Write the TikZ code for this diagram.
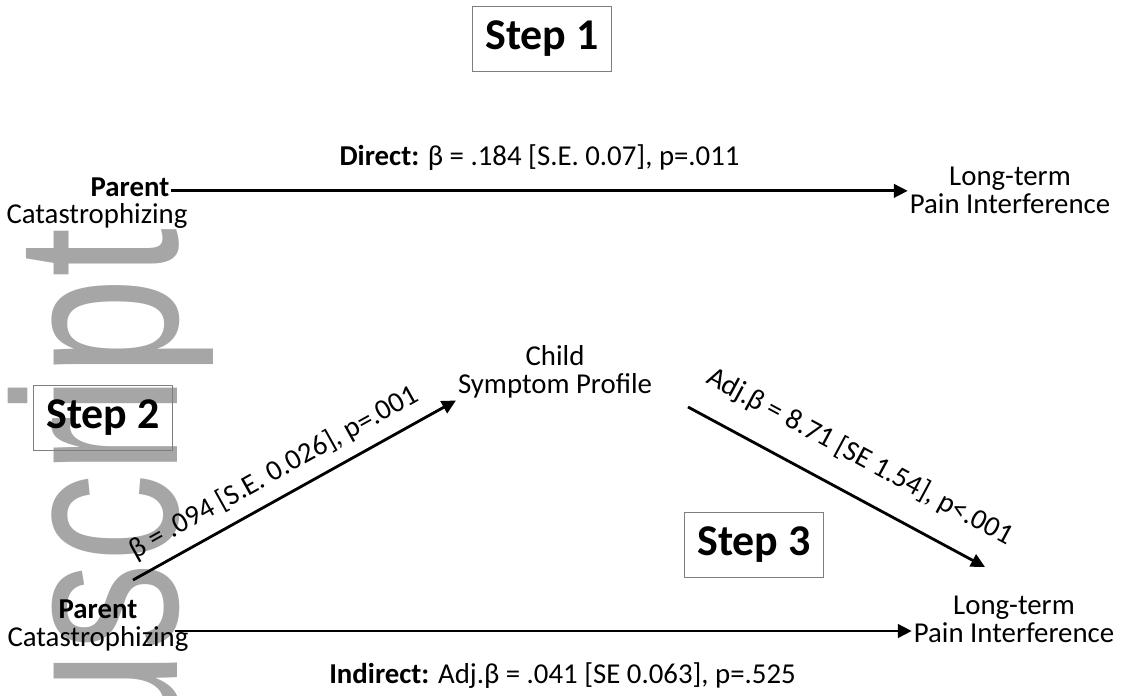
\documentclass[tikz,border=0pt]{standalone}
\usepackage{fontspec}
\usepackage{graphicx}
\setmainfont{Carlito}
\newfontfamily\wmfont{Liberation Sans}
\usetikzlibrary{arrows.meta,calc}
\definecolor{wmgray}{RGB}{166,166,166}
\definecolor{boxgray}{RGB}{125,125,125}
\begin{document}
\begin{tikzpicture}[x=0.02cm,y=-0.02cm,
  lbl/.style={font=\fontsize{16.4pt}{16pt}\selectfont, inner sep=1pt, align=center},
  lblb/.style={font=\fontsize{16.4pt}{16pt}\selectfont\bfseries, inner sep=1pt, align=center},
  stepbox/.style={draw=boxgray, line width=1.1pt, minimum width=2.78cm, minimum height=1.3cm, font=\fontsize{25pt}{30pt}\selectfont\bfseries, inner sep=0pt},
  arr/.style={line width=1.6pt, -{Triangle[length=0.28cm,width=0.27cm]}},
  elab/.style={font=\fontsize{16.4pt}{16pt}\selectfont, inner xsep=0pt}
]
\useasboundingbox (0,0) rectangle (1132,696);
% watermark
\begin{scope}
\clip (0,0) rectangle (212,696);
\node[text=wmgray, rotate=90, anchor=base east, inner sep=0pt, font=\wmfont\fontsize{133pt}{134pt}\selectfont] (wm) at (177,228) {\scalebox{0.757}[1]{Manuscript}};
\end{scope}
% step boxes
\node[stepbox] (s1) at (542,39) {Step 1};
\node[stepbox] (s2) at (103,418) {Step 2};
\node[stepbox] (s3) at (754,545) {Step 3};
% nodes
\node[lblb] (parent1) at (130,187) {Parent};
\node[lbl] (cat1) at (97,216) {Catastrophizing};
\node[lbl] (lt1) at (1010,190) {Long-term\\Pain Interference};
\node[lbl] (child) at (555,372) {Child\\Symptom Profile};
\node[lbl] (pc2) at (98,626) {\textbf{Parent}\\Catastrophizing};
\node[lbl] (lt2) at (1014,619) {Long-term\\Pain Interference};
% coordinates
\coordinate (b0) at (175,631);
\coordinate (d2s) at (133,580);
\coordinate (d3s) at (688,407);
\coordinate (d3e) at (985,567);
% arrows
\draw[arr] ([yshift=-2.2pt]parent1.east) -- ([yshift=-2.2pt]parent1.east -| lt1.west)
  node[elab, midway, above, inner ysep=11pt] {\textbf{Direct:} β = .184 [S.E. 0.07], p=.011};
\draw[arr] (d2s) -- (child.south west)
  node[elab, pos=0.474, sloped, above, inner ysep=6.2pt] {β = .094 [S.E. 0.026], p=.001};
\draw[arr] (d3s) -- (d3e)
  node[elab, pos=0.519, sloped, above, inner ysep=13.2pt] {Adj.β = 8.71 [SE 1.54], p<.001};
\draw[arr] (b0) -- (b0 -| lt2.west)
  node[elab, pos=0.526, below, inner ysep=17pt] {\textbf{Indirect:} Adj.β = .041 [SE 0.063], p=.525};
\end{tikzpicture}
\end{document}
